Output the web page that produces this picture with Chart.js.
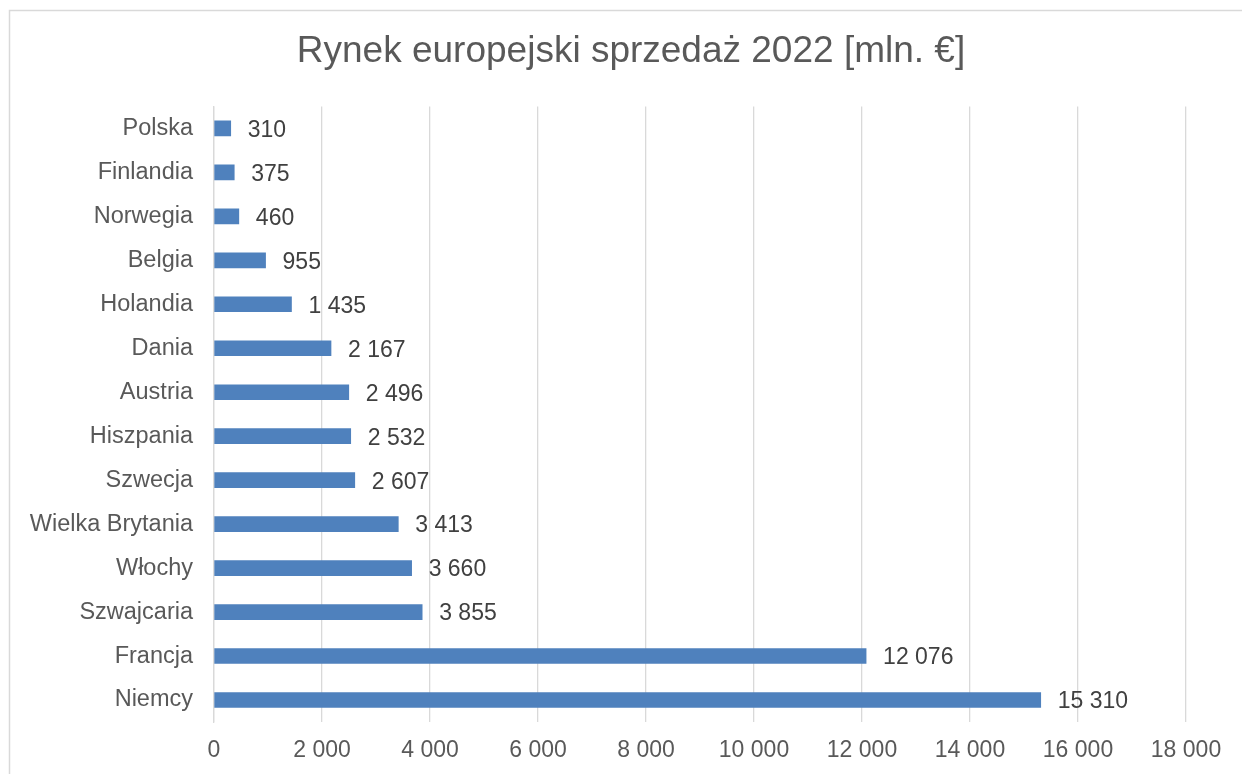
<!DOCTYPE html>
<html>
<head>
<meta charset="utf-8">
<script src="https://cdn.jsdelivr.net/npm/chart.js@4"></script>
<style>
  html, body { margin: 0; padding: 0; background: #fff; }
  #wrap { width: 1242px; height: 774px; position: relative; }
</style>
</head>
<body>
<div id="wrap"><canvas id="chart" width="1242" height="774"></canvas></div>
<script>
// Data
const countries = ['Polska', 'Finlandia', 'Norwegia', 'Belgia', 'Holandia', 'Dania', 'Austria',
  'Hiszpania', 'Szwecja', 'Wielka Brytania', 'Włochy', 'Szwajcaria', 'Francja', 'Niemcy'];
const sales = [310, 375, 460, 955, 1435, 2167, 2496, 2532, 2607, 3413, 3660, 3855, 12076, 15310];
const axisMax = 18000;
const axisStep = 2000;

const textColor = '#595959';
const gridColor = '#d9d9d9';
const barColor = '#4f81bd';
const fontFamily = '"Liberation Sans", Arial, sans-serif';

// thousands separated by a space, e.g. 12 076
const fmt = v => String(Math.round(v)).replace(/\B(?=(\d{3})+(?!\d))/g, ' ');

// Outer chart border (like the Excel chart frame)
const framePlugin = {
  id: 'frame',
  beforeDraw(chart) {
    const ctx = chart.ctx;
    ctx.save();
    ctx.fillStyle = '#fff';
    ctx.fillRect(0, 0, chart.width, chart.height);
    ctx.strokeStyle = gridColor;
    ctx.lineWidth = 1.5;
    ctx.strokeRect(9.5, 10.5, 1300, 800);
    ctx.restore();
  }
};

// Value labels at the end of each bar
const valueLabels = {
  id: 'valueLabels',
  afterDatasetsDraw(chart) {
    const ctx = chart.ctx;
    const meta = chart.getDatasetMeta(0);
    ctx.save();
    ctx.font = '23px ' + fontFamily;
    ctx.fillStyle = '#404040';
    ctx.textAlign = 'left';
    ctx.textBaseline = 'middle';
    meta.data.forEach((bar, i) => {
      ctx.fillText(fmt(sales[i]), bar.x + 17, bar.y + 2);
    });
    ctx.restore();
  }
};

new Chart(document.getElementById('chart'), {
  type: 'bar',
  data: {
    labels: countries,
    datasets: [{
      label: 'Sprzedaż',
      data: sales,
      backgroundColor: barColor,
      borderWidth: 0,
      barThickness: 15
    }]
  },
  options: {
    indexAxis: 'y',
    responsive: false,
    animation: false,
    layout: { padding: { left: 20, right: 0, top: 0, bottom: 0 } },
    plugins: {
      legend: { display: false },
      tooltip: { enabled: false },
      title: {
        display: true,
        text: 'Rynek europejski sprzedaż 2022 [mln. €]',
        color: textColor,
        font: { family: fontFamily, size: 37, weight: 'normal' },
        padding: { top: 30, bottom: 32 }
      }
    },
    scales: {
      x: {
        min: 0,
        max: axisMax,
        ticks: {
          stepSize: axisStep,
          color: textColor,
          font: { family: fontFamily, size: 23 },
          padding: 15,
          callback: v => fmt(v)
        },
        grid: { color: gridColor, lineWidth: 1.3, drawTicks: false },
        border: { display: false },
        afterFit(scale) {
          scale.height = 52;
          scale.paddingRight = 56;
        }
      },
      y: {
        ticks: {
          color: textColor,
          font: { family: fontFamily, size: 23.5 },
          padding: 21
        },
        grid: { display: false, drawTicks: false },
        border: { display: true, color: gridColor, width: 1.3 },
        afterFit(scale) { scale.width = 194; }
      }
    }
  },
  plugins: [framePlugin, valueLabels]
});
</script>
</body>
</html>
